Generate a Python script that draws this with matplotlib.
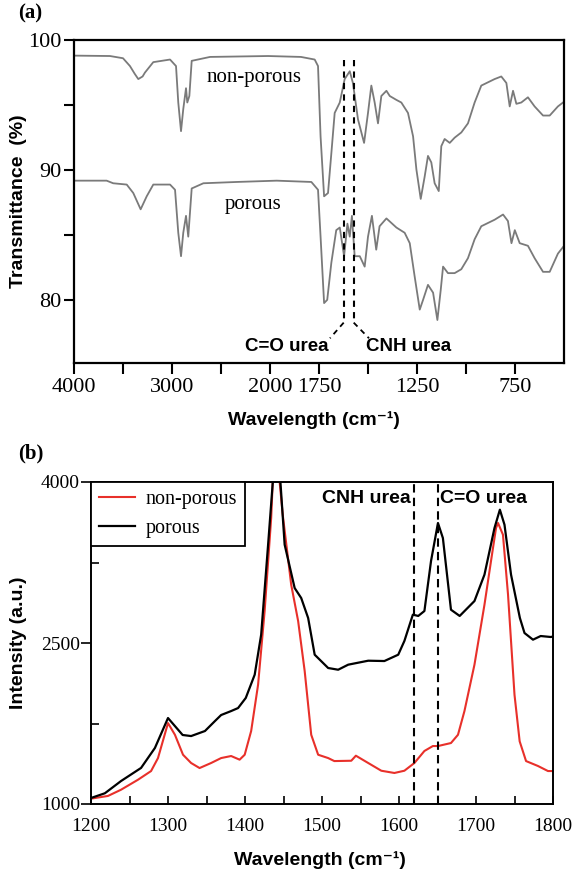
"""
FTIR (a) and Raman (b) spectra of non-porous vs porous samples
"""

import numpy as np
import matplotlib
matplotlib.use('Agg')
import matplotlib.pyplot as plt
from matplotlib.ticker import FixedLocator, FixedFormatter

SANS = ['Liberation Sans', 'DejaVu Sans']
SERIF = ['Liberation Serif', 'DejaVu Serif']

# ---- (a) FTIR, transmittance [%] ----
ftirNpWn = [3990, 3633, 3500, 3429, 3380, 3344, 3300, 3276, 3191, 3020, 2959, 2936, 2908, 2885, 2857,
            2844, 2823, 2799, 2612, 2020, 1842, 1772, 1755, 1742, 1724, 1704, 1687, 1670, 1644, 1619,
            1593, 1577, 1551, 1520, 1500, 1483, 1466, 1449, 1432, 1406, 1389, 1355, 1330, 1296, 1270,
            1253, 1231, 1211, 1194, 1177, 1160, 1139, 1126, 1109, 1083, 1058, 1024, 990, 956, 922,
            854, 820, 794, 777, 760, 743, 718, 684, 650, 607, 573, 531, 505]
ftirNpT = [98.8, 98.77, 98.6, 98.0, 97.4, 97.0, 97.2, 97.5, 98.3, 98.5, 98.0, 95.2, 93.0, 94.7, 96.3,
           95.2, 95.7, 98.4, 98.7, 98.77, 98.7, 98.5, 98.0, 92.6, 88.0, 88.25, 91.3, 94.4, 95.2, 97.0,
           97.6, 96.7, 93.9, 92.1, 94.4, 96.5, 95.2, 93.6, 95.7, 96.1, 95.7, 95.4, 95.2, 94.4, 92.6,
           90.05, 87.8, 89.5, 91.1, 90.6, 89.0, 88.4, 91.85, 92.4, 92.1, 92.5, 92.9, 93.6, 95.2, 96.5,
           97.0, 97.2, 96.7, 94.9, 96.1, 95.1, 95.2, 95.6, 94.9, 94.2, 94.2, 94.9, 95.2]

ftirPWn = [3990, 3667, 3600, 3462, 3395, 3320, 3258, 3191, 3020, 2969, 2936, 2908, 2885, 2857, 2834,
           2799, 2680, 2340, 1966, 1789, 1755, 1742, 1724, 1708, 1687, 1662, 1644, 1622, 1605, 1593,
           1582, 1568, 1542, 1517, 1500, 1480, 1458, 1441, 1406, 1355, 1313, 1287, 1262, 1236, 1219,
           1194, 1168, 1146, 1129, 1117, 1092, 1058, 1024, 990, 956, 922, 854, 811, 786, 768,
           751, 726, 684, 650, 607, 573, 531, 505]
ftirPT = [89.2, 89.2, 89.0, 88.9, 88.25, 87.0, 88.0, 88.9, 88.9, 88.5, 85.2, 83.4, 85.2, 86.5, 84.9,
          88.6, 89.0, 89.1, 89.2, 89.1, 88.5, 84.9, 79.8, 80.05, 82.9, 85.4, 85.6, 83.4, 85.9, 84.9,
          86.5, 83.4, 83.4, 82.6, 84.9, 86.5, 83.9, 85.7, 86.3, 85.6, 85.2, 84.4, 81.85, 79.3, 80.05,
          81.2, 80.6, 78.5, 80.8, 82.6, 82.1, 82.1, 82.4, 83.25, 84.7, 85.7, 86.2, 86.6, 86.1, 84.4,
          85.4, 84.4, 84.2, 83.25, 82.2, 82.2, 83.6, 84.1]

ftirTicks = [4000, 3500, 3000, 2500, 2000, 1750, 1500, 1250, 1000, 750]
ftirTickLabels = ['4000', '', '3000', '', '2000', '1750', '', '1250', '', '750']
ftirMarks = [1624, 1573]     # C=O urea, CNH urea

# ---- (b) Raman, intensity [a.u.] ----
ramanNpWn = [1200, 1222, 1239, 1261, 1278, 1287, 1300, 1309, 1319.5, 1330, 1341, 1356, 1369, 1382, 1393,
             1399.6, 1408, 1417, 1425.5, 1434, 1436, 1440, 1445, 1449, 1460, 1469, 1477.5, 1486, 1495, 1508,
             1516, 1538, 1544, 1560, 1577, 1594, 1607, 1620, 1633, 1644, 1650.6, 1667.5, 1676.6, 1685, 1698,
             1711, 1719.5, 1726, 1728.6, 1735, 1741.6, 1750, 1756.7, 1765, 1780.5, 1793.5, 1800]
ramanNpI = [1050, 1075, 1133, 1226, 1307, 1428, 1754, 1645, 1459, 1382, 1335, 1382, 1428, 1447, 1413,
            1459, 1680, 2112, 2798, 3665, 4000, 4200, 4000, 3695, 3043, 2705, 2239, 1645, 1459, 1428,
            1400, 1403, 1450, 1382, 1310, 1289, 1310, 1382, 1494, 1540, 1540, 1568, 1645, 1866, 2298,
            2857, 3264, 3571, 3618, 3509, 2950, 2018, 1584, 1400, 1354, 1307, 1307]

ramanPWn = [1200, 1218, 1239, 1265, 1283, 1300, 1319, 1330, 1348, 1361, 1369, 1382, 1391, 1401, 1412.6,
            1421, 1430, 1436, 1440, 1446, 1451.5, 1464.5, 1473, 1482, 1490.5, 1508, 1521, 1534, 1560, 1581,
            1599, 1607, 1618, 1625, 1633, 1641.6, 1650.6, 1657, 1667.5, 1678.8, 1698, 1711, 1724, 1731, 1737,
            1745.5, 1757, 1763, 1774, 1784, 1797, 1800]
ramanPI = [1056, 1100, 1214, 1336, 1522, 1801, 1643, 1633, 1680, 1773, 1829, 1866, 1894, 1988, 2205,
           2578, 3416, 3990, 4200, 4000, 3416, 3012, 2919, 2733, 2391, 2267, 2251, 2298, 2335, 2332,
           2391, 2519, 2764, 2752, 2798, 3264, 3618, 3478, 2810, 2752, 2891, 3137, 3571, 3742, 3602,
           3137, 2733, 2593, 2531, 2565, 2556, 2560]

ramanMarks = [1620, 1650]    # CNH urea, C=O urea


def ftirForward(w):
    w = np.asarray(w, dtype=float)
    return np.where(w > 2000, 2000 + (w - 2000) / 2.0, w)


def ftirInverse(u):
    u = np.asarray(u, dtype=float)
    return np.where(u > 2000, 2000 + 2.0 * (u - 2000), u)


if __name__ == '__main__':
    plt.rcParams['font.family'] = SERIF

    fig = plt.figure(figsize=(5.74, 8.77), dpi=100)

    # ---------------- (a) ----------------
    ax = fig.add_axes([74 / 574, 1 - 363 / 877, 490 / 574, 323 / 877])
    ax.set_xscale('function', functions=(ftirForward, ftirInverse))
    ax.plot(ftirNpWn, ftirNpT, color='#7a7a7a', lw=1.3)
    ax.plot(ftirPWn, ftirPT, color='#7a7a7a', lw=1.3)
    ax.set_xlim(4000, 500)
    ax.set_ylim(75.2, 100)

    for wn in ftirMarks:
        ax.plot([wn, wn], [98.5, 78.3], color='black', ls=(0, (3, 2.5)), lw=1.5)
    ax.plot([ftirMarks[0], 1694], [78.3, 77.1], color='black', ls=(0, (3, 2.5)), lw=1.3)
    ax.plot([ftirMarks[1], 1495], [78.3, 77.1], color='black', ls=(0, (3, 2.5)), lw=1.3)

    ax.text(1700, 76.5, 'C=O urea', family=SANS, weight='bold', fontsize=13.5, ha='right', va='center')
    ax.text(1510, 76.5, 'CNH urea', family=SANS, weight='bold', fontsize=13.5, ha='left', va='center')
    ax.text(2168, 97.1, 'non-porous', fontsize=15, ha='center', va='center')
    ax.text(2168, 87.4, 'porous', fontsize=15, ha='center', va='center')

    ax.xaxis.set_major_locator(FixedLocator(ftirTicks))
    ax.xaxis.set_major_formatter(FixedFormatter(ftirTickLabels))
    ax.xaxis.set_minor_locator(FixedLocator([]))
    ax.yaxis.set_major_locator(FixedLocator([80, 90, 100]))
    ax.yaxis.set_minor_locator(FixedLocator([85, 95]))
    ax.tick_params(axis='both', which='both', direction='out', width=1.5, labelsize=16)
    ax.tick_params(axis='x', which='major', length=8, pad=3)
    ax.tick_params(axis='y', which='both', length=7, pad=2)
    for sp in ax.spines.values():
        sp.set_linewidth(1.6)

    ax.set_xlabel('Wavelength (cm⁻¹)', family=SANS, weight='bold', fontsize=14)
    ax.set_ylabel('Transmittance  (%)', family=SANS, weight='bold', fontsize=14)
    ax.xaxis.set_label_coords(0.49, -0.149)
    ax.yaxis.set_label_coords(-0.096, 0.5)

    fig.text(18 / 574, 1 - 13 / 877, '(a)', fontsize=15, weight='bold', ha='left', va='center')

    # ---------------- (b) ----------------
    bx = fig.add_axes([91 / 574, 1 - 804 / 877, 462 / 574, 322 / 877])
    bx.plot(ramanNpWn, ramanNpI, color='#e8302a', lw=1.5, label='non-porous')
    bx.plot(ramanPWn, ramanPI, color='black', lw=1.6, label='porous')
    bx.set_xlim(1200, 1800)
    bx.set_ylim(1000, 4000)

    for wn in ramanMarks:
        bx.axvline(wn, color='black', ls=(0, (4, 2.5)), lw=1.5)
    bx.text(1615, 3850, 'CNH urea', family=SANS, weight='bold', fontsize=14, ha='right', va='center')
    bx.text(1653, 3850, 'C=O urea', family=SANS, weight='bold', fontsize=14, ha='left', va='center')

    leg = bx.legend(loc='upper left', bbox_to_anchor=(0, 1), borderaxespad=0, fancybox=False,
                    edgecolor='black', framealpha=1, fontsize=14.5, handlelength=1.8,
                    handletextpad=0.5, borderpad=0.4, labelspacing=0.5)
    leg.get_frame().set_linewidth(1.3)

    bx.xaxis.set_major_locator(FixedLocator([1200, 1300, 1400, 1500, 1600, 1700, 1800]))
    bx.xaxis.set_minor_locator(FixedLocator([1250, 1350, 1450, 1550, 1650, 1750]))
    bx.yaxis.set_major_locator(FixedLocator([1000, 2500, 4000]))
    bx.yaxis.set_minor_locator(FixedLocator([1750, 3250]))
    bx.tick_params(axis='x', which='both', direction='in', length=6, width=1.2, labelsize=14, pad=10)
    bx.tick_params(axis='y', which='major', direction='out', length=7, width=1.2, labelsize=14, pad=1)
    bx.tick_params(axis='y', which='minor', direction='in', length=6, width=1.2)
    for sp in bx.spines.values():
        sp.set_linewidth(1.4)

    bx.set_xlabel('Wavelength (cm⁻¹)', family=SANS, weight='bold', fontsize=14)
    bx.set_ylabel('Intensity (a.u.)', family=SANS, weight='bold', fontsize=14)
    bx.xaxis.set_label_coords(0.4946, -0.146)
    bx.yaxis.set_label_coords(-0.139, 0.5)

    fig.text(18 / 574, 1 - 453 / 877, '(b)', fontsize=15, weight='bold', ha='left', va='center')

    plt.savefig('out.png', dpi=100)
